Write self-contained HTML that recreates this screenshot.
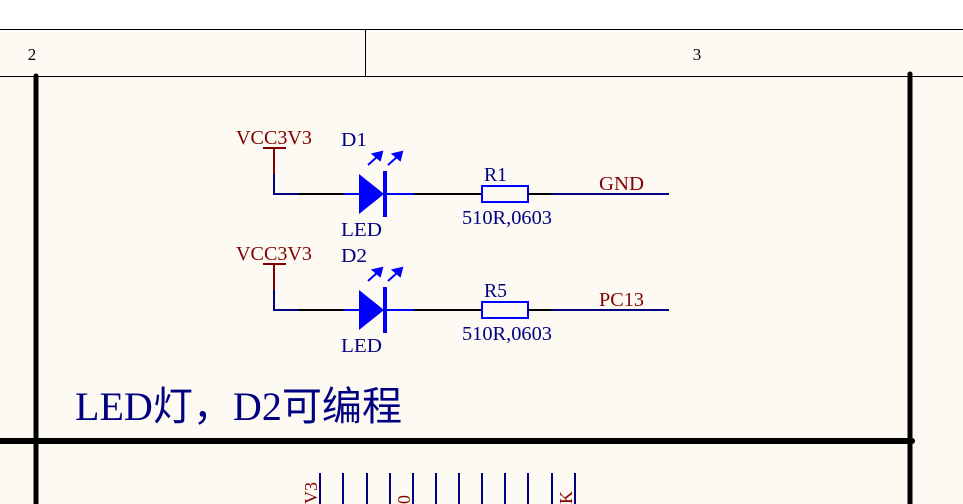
<!DOCTYPE html>
<html><head><meta charset="utf-8"><style>
html,body{margin:0;padding:0;background:#fff;}
svg{display:block;}
text{font-family:"Liberation Serif","Noto Sans CJK SC",serif;}
</style></head><body>
<svg width="963" height="504" viewBox="0 0 963 504" xmlns="http://www.w3.org/2000/svg">
<rect x="0" y="0" width="963" height="29" fill="#ffffff"/>
<rect x="0" y="29" width="963" height="475" fill="#fdfaf4"/>
<line x1="0" y1="29.5" x2="963" y2="29.5" stroke="#000" stroke-width="1"/>
<line x1="0" y1="76.5" x2="963" y2="76.5" stroke="#000" stroke-width="1"/>
<line x1="365.5" y1="29" x2="365.5" y2="76" stroke="#000" stroke-width="1"/>
<text x="32" y="60" font-size="17" text-anchor="middle" fill="#000">2</text>
<text x="697" y="60" font-size="17" text-anchor="middle" fill="#000">3</text>
<line x1="36" y1="76" x2="36" y2="504" stroke="#000" stroke-width="5" stroke-linecap="round"/>
<line x1="910" y1="74" x2="910" y2="504" stroke="#000" stroke-width="5" stroke-linecap="round"/>
<line x1="0" y1="441" x2="912" y2="441" stroke="#000" stroke-width="6" stroke-linecap="round"/>

<g>
<text x="236" y="144" font-size="20" fill="#800000" textLength="76" lengthAdjust="spacingAndGlyphs">VCC3V3</text>
<line x1="263" y1="148" x2="286" y2="148" stroke="#800000" stroke-width="2"/>
<line x1="274" y1="148" x2="274" y2="174" stroke="#800000" stroke-width="2"/>
<polyline points="274,174 274,194 298,194" fill="none" stroke="#000080" stroke-width="2"/>
<line x1="298" y1="194" x2="344" y2="194" stroke="#000" stroke-width="2"/>
<line x1="344" y1="194" x2="414" y2="194" stroke="#0000ff" stroke-width="2"/>
<polygon points="359,174 359,214 384,194" fill="#0000ff"/>
<rect x="383" y="171" width="4" height="46" fill="#0000ff"/>
<g stroke="#0000ff" stroke-width="2" fill="#0000ff">
<line x1="368" y1="165" x2="378" y2="156"/><polygon points="382,152 373,154 380,160"/>
<line x1="388" y1="165" x2="398" y2="156"/><polygon points="402,152 393,154 400,160"/>
</g>
<text x="341" y="146" font-size="20" fill="#000080" textLength="26" lengthAdjust="spacingAndGlyphs">D1</text>
<text x="341" y="236" font-size="20" fill="#000080" textLength="41" lengthAdjust="spacingAndGlyphs">LED</text>
<line x1="414" y1="194" x2="482" y2="194" stroke="#000" stroke-width="2"/>
<rect x="482" y="186" width="46" height="16" fill="none" stroke="#0000ff" stroke-width="2"/>
<line x1="528" y1="194" x2="552" y2="194" stroke="#000" stroke-width="2"/>
<line x1="552" y1="194" x2="669" y2="194" stroke="#000080" stroke-width="2"/>
<text x="484" y="181" font-size="20" fill="#000080" textLength="23" lengthAdjust="spacingAndGlyphs">R1</text>
<text x="462" y="224" font-size="20" fill="#000080" textLength="90" lengthAdjust="spacingAndGlyphs">510R,0603</text>
<text x="599" y="190" font-size="20" fill="#800000" textLength="45" lengthAdjust="spacingAndGlyphs">GND</text>
</g>

<g transform="translate(0,116)">
<text x="236" y="144" font-size="20" fill="#800000" textLength="76" lengthAdjust="spacingAndGlyphs">VCC3V3</text>
<line x1="263" y1="148" x2="286" y2="148" stroke="#800000" stroke-width="2"/>
<line x1="274" y1="148" x2="274" y2="174" stroke="#800000" stroke-width="2"/>
<polyline points="274,174 274,194 298,194" fill="none" stroke="#000080" stroke-width="2"/>
<line x1="298" y1="194" x2="344" y2="194" stroke="#000" stroke-width="2"/>
<line x1="344" y1="194" x2="414" y2="194" stroke="#0000ff" stroke-width="2"/>
<polygon points="359,174 359,214 384,194" fill="#0000ff"/>
<rect x="383" y="171" width="4" height="46" fill="#0000ff"/>
<g stroke="#0000ff" stroke-width="2" fill="#0000ff">
<line x1="368" y1="165" x2="378" y2="156"/><polygon points="382,152 373,154 380,160"/>
<line x1="388" y1="165" x2="398" y2="156"/><polygon points="402,152 393,154 400,160"/>
</g>
<text x="341" y="146" font-size="20" fill="#000080" textLength="26" lengthAdjust="spacingAndGlyphs">D2</text>
<text x="341" y="236" font-size="20" fill="#000080" textLength="41" lengthAdjust="spacingAndGlyphs">LED</text>
<line x1="414" y1="194" x2="482" y2="194" stroke="#000" stroke-width="2"/>
<rect x="482" y="186" width="46" height="16" fill="none" stroke="#0000ff" stroke-width="2"/>
<line x1="528" y1="194" x2="552" y2="194" stroke="#000" stroke-width="2"/>
<line x1="552" y1="194" x2="669" y2="194" stroke="#000080" stroke-width="2"/>
<text x="484" y="181" font-size="20" fill="#000080" textLength="23" lengthAdjust="spacingAndGlyphs">R5</text>
<text x="462" y="224" font-size="20" fill="#000080" textLength="90" lengthAdjust="spacingAndGlyphs">510R,0603</text>
<text x="599" y="190" font-size="20" fill="#800000" textLength="45" lengthAdjust="spacingAndGlyphs">PC13</text>
</g>

<text x="75" y="420" font-size="40" fill="#000080" textLength="327" lengthAdjust="spacingAndGlyphs">LED灯，D2可编程</text>

<g stroke="#000080" stroke-width="2">
<line x1="320" y1="473" x2="320" y2="504"/><line x1="343" y1="473" x2="343" y2="504"/>
<line x1="367" y1="473" x2="367" y2="504"/><line x1="390" y1="473" x2="390" y2="504"/>
<line x1="413" y1="473" x2="413" y2="504"/><line x1="436" y1="473" x2="436" y2="504"/>
<line x1="459" y1="473" x2="459" y2="504"/><line x1="482" y1="473" x2="482" y2="504"/>
<line x1="505" y1="473" x2="505" y2="504"/><line x1="528" y1="473" x2="528" y2="504"/>
<line x1="552" y1="473" x2="552" y2="504"/><line x1="575" y1="473" x2="575" y2="504"/>
</g>
<text transform="translate(317,504) rotate(-90)" font-size="18" fill="#800000">V3</text>
<text transform="translate(410,504) rotate(-90)" font-size="18" fill="#800000">0</text>
<text transform="translate(572,504) rotate(-90)" font-size="18" fill="#800000">K</text>
</svg>
</body></html>
